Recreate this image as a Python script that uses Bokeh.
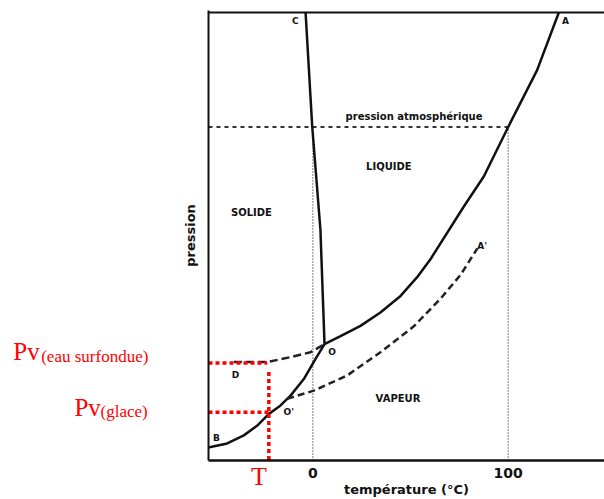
from bokeh.plotting import figure
from bokeh.models import Range1d, FixedTicker, LinearAxis, ColumnDataSource
from bokeh.layouts import row
from bokeh.core.properties import value
from bokeh.embed import file_html
from bokeh.resources import INLINE

# ---- data (temperature in °C, pressure in arbitrary units 0..100) ----
fusion_T = [-3.7, -0.3, 3.9, 6.0]
fusion_P = [100.0, 74.5, 51.4, 25.8]

vap_T = [6.0, 14.2, 24.4, 34.6, 44.9, 53.4, 60.2, 77.3, 87.5, 100.0, 114.8, 125.9]
vap_P = [25.8, 27.6, 29.9, 32.9, 36.6, 40.8, 44.8, 56.6, 63.3, 74.4, 87.1, 100.0]

sub_T = [-53.4, -52.3, -43.8, -35.3, -28.4, -22.5, -16.5, -11.4, -4.6, 1.4, 6.0]
sub_P = [2.7, 2.8, 3.6, 5.4, 7.6, 10.2, 12.1, 14.3, 18.0, 22.5, 25.8]

supercooled_T = [-40.4, -23.3, -11.4, -1.2, 6.0]
supercooled_P = [21.8, 21.8, 22.9, 24.0, 25.8]

metastable_T = [-13.1, 0.5, 17.6, 34.6, 51.7, 65.4, 75.6, 84.2]
metastable_P = [13.6, 15.4, 18.8, 24.0, 29.8, 36.0, 41.3, 47.2]

P_atm = 74.4
T_boil = 100.0
T_zero_top = 72.0
T_mark = -22.5
Pv_liquid = 21.6
Pv_ice = 10.6

tick_values = [0, 100]
tick_labels = {0: "0", 100: "100"}

region_labels = ["pression atmosphérique", "LIQUIDE", "SOLIDE", "VAPEUR"]
region_T = [51.8, 38.9, -31.4, 43.6]
region_P = [76.7, 65.5, 55.2, 13.6]

point_labels = ["C", "A", "B", "D", "O", "O'", "A'"]
point_T = [-8.9, 129.3, -49.3, -39.6, 9.9, -12.3, 86.7]
point_P = [98.2, 98.1, 4.8, 18.9, 24.1, 10.6, 47.7]

# red annotation texts (left of the diagram)
pv_main = ["Pv", "Pv"]
pv_main_T = [-153.3, -122.0]
pv_main_P = [24.2, 11.7]
pv_sub = ["(eau surfondue)", "(glace)"]
pv_sub_T = [-139.0, -108.6]
pv_sub_P = [23.0, 10.8]
T_label_at = -27.6   # where the red "T" is written (just left of the marker line)

X0, X1 = -53.38, 149.28
XL0, XL1 = -159.83, -68.73
Y0, Y1 = -0.22, 100.45
yr = Range1d(Y0, Y1)

bold = "DejaVu Sans"
serif = "Liberation Serif"
red = "#ff0000"
ink = "#111111"

# ---------- left panel holding the red Pv labels ----------
left = figure(width=178, height=499, output_backend="svg", toolbar_location=None,
              x_range=Range1d(XL0, XL1), y_range=yr,
              x_axis_location=None, y_axis_location=None,
              min_border_left=0, min_border_right=0, min_border_top=10, min_border_bottom=37)
left.outline_line_color = None
left.xgrid.visible = False
left.ygrid.visible = False
left.text(x=pv_main_T, y=pv_main_P, text=pv_main, text_font=value(serif), text_font_size="25px",
          text_color=red, text_align="left", text_baseline="alphabetic")
left.text(x=pv_sub_T, y=pv_sub_P, text=pv_sub, text_font=value(serif), text_font_size="17px",
          text_color=red, text_align="left", text_baseline="alphabetic")

# ---------- main diagram ----------
p = figure(width=426, height=499, output_backend="svg", toolbar_location=None,
           x_range=Range1d(X0, X1), y_range=yr,
           min_border_left=30, min_border_right=0, min_border_top=10, min_border_bottom=37)
p.outline_line_color = None
p.background_fill_color = "white"
p.border_fill_color = "white"
p.xgrid.visible = False
p.ygrid.visible = False

xa = p.xaxis[0]
xa.ticker = FixedTicker(ticks=tick_values)
xa.major_label_overrides = tick_labels
xa.major_tick_out = 0
xa.major_tick_in = 0
xa.minor_tick_out = 0
xa.minor_tick_in = 0
xa.axis_line_width = 2.5
xa.axis_line_color = ink
xa.major_label_text_font = bold
xa.major_label_text_font_style = "bold"
xa.major_label_text_font_size = "14px"
xa.major_label_text_color = ink
xa.major_label_standoff = 7
xa.axis_label = "température (°C)"
xa.axis_label_text_font = bold
xa.axis_label_text_font_style = "bold"
xa.axis_label_text_font_size = "13px"
xa.axis_label_text_color = ink
xa.axis_label_standoff = 1

ya = p.yaxis[0]
ya.ticker = FixedTicker(ticks=[])
ya.major_tick_out = 0
ya.major_tick_in = 0
ya.minor_tick_out = 0
ya.minor_tick_in = 0
ya.major_label_standoff = 0
ya.axis_line_width = 2
ya.axis_line_color = ink
ya.axis_label = "pression"
ya.axis_label_text_font = bold
ya.axis_label_text_font_style = "bold"
ya.axis_label_text_font_size = "13px"
ya.axis_label_text_color = ink
ya.axis_label_standoff = 11

# red "T" label as a second bottom axis
t_axis = LinearAxis(ticker=FixedTicker(ticks=[T_label_at]), major_label_overrides={T_label_at: "T"})
t_axis.axis_line_color = None
t_axis.major_tick_out = 0
t_axis.major_tick_in = 0
t_axis.minor_tick_out = 0
t_axis.minor_tick_in = 0
t_axis.major_label_text_font = serif
t_axis.major_label_text_font_size = "26px"
t_axis.major_label_text_color = red
t_axis.major_label_standoff = -38
p.add_layout(t_axis, "below")

# top frame line
p.line([X0, X1], [100.0, 100.0], line_color=ink, line_width=2)

# reference dotted lines
p.line([0, 0], [Y0, T_zero_top], line_color="#555555", line_width=1.5, line_dash="1 2")
p.line([T_boil, T_boil], [Y0, P_atm], line_color="#555555", line_width=1.5, line_dash="1 2")
p.line([X0, T_boil], [P_atm, P_atm], line_color="#333333", line_width=2, line_dash="4 4")

# equilibrium curves
p.line(fusion_T, fusion_P, line_color=ink, line_width=2.5)
p.line(vap_T, vap_P, line_color=ink, line_width=2.5)
p.line(sub_T, sub_P, line_color=ink, line_width=2.5)
p.line(supercooled_T, supercooled_P, line_color="#222222", line_width=2.5, line_dash="8 4")
p.line(metastable_T, metastable_P, line_color="#222222", line_width=2.5, line_dash="7 4")

# texts inside the diagram
src_r = ColumnDataSource(dict(x=region_T, y=region_P, t=region_labels))
p.text(x="x", y="y", text="t", source=src_r, text_font=value(bold), text_font_style="bold",
       text_font_size="10px", text_align="center", text_baseline="middle", text_color=ink)
src_p = ColumnDataSource(dict(x=point_T, y=point_P, t=point_labels))
p.text(x="x", y="y", text="t", source=src_p, text_font=value(bold), text_font_style="bold",
       text_font_size="9px", text_align="center", text_baseline="middle", text_color=ink)

# red construction lines
p.line([X0, supercooled_T[1]], [Pv_liquid, Pv_liquid], line_color=red, line_width=3.5, line_dash="4 3")
p.line([X0, T_mark], [Pv_ice, Pv_ice], line_color=red, line_width=3.5, line_dash="4 3")
p.line([T_mark, T_mark], [19.6, Y0], line_color=red, line_width=3.5, line_dash="4 3")

layout = row(left, p, spacing=0)
open("out.html", "w").write(file_html(layout, INLINE))
